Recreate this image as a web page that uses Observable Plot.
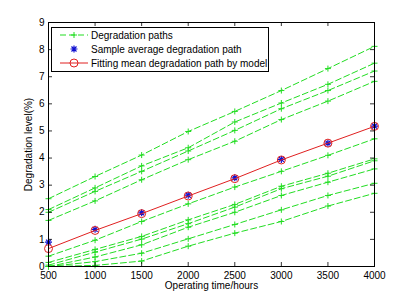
<!DOCTYPE html>
<html>
<head>
<meta charset="utf-8">
<script src="https://cdn.jsdelivr.net/npm/d3@7"></script>
<script src="https://cdn.jsdelivr.net/npm/@observablehq/plot@0.6"></script>
<style>
  html, body { margin: 0; padding: 0; background: #fff; }
  #chart { position: relative; width: 396px; height: 297px; }
</style>
</head>
<body>
<div id="chart"></div>
<script>
// ---- data ----
const times = [500, 1000, 1500, 2000, 2500, 3000, 3500, 4000];
const xTicks = [500, 1000, 1500, 2000, 2500, 3000, 3500, 4000];
const yTicks = [0, 1, 2, 3, 4, 5, 6, 7, 8, 9];

// upper group of degradation paths
const path1 = [2.50, 3.32, 4.11, 4.98, 5.72, 6.49, 7.30, 8.12];
const path2 = [2.10, 2.90, 3.71, 4.38, 5.33, 6.03, 6.72, 7.50];
const path3 = [2.00, 2.77, 3.51, 4.26, 5.02, 5.82, 6.49, 7.21];
const path4 = [1.70, 2.42, 3.20, 3.94, 4.62, 5.42, 6.10, 6.83];
// lower group of degradation paths
const path5 = [0.38, 0.97, 1.66, 2.31, 2.93, 3.51, 4.10, 4.71];
const path6 = [0.15, 0.63, 1.11, 1.72, 2.29, 2.96, 3.44, 3.97];
const path7 = [0.05, 0.53, 1.01, 1.58, 2.19, 2.87, 3.33, 3.90];
const path8 = [0.00, 0.35, 0.80, 1.45, 2.00, 2.62, 3.11, 3.60];
const path9 = [0.00, 0.18, 0.49, 1.02, 1.55, 2.09, 2.62, 3.07];
const path10 = [0.00, 0.04, 0.20, 0.75, 1.23, 1.66, 2.23, 2.70];

const sampleAvg = [0.90, 1.37, 1.98, 2.63, 3.27, 3.95, 4.55, 5.18];
const fittedMean = [0.66, 1.33, 1.95, 2.60, 3.24, 3.93, 4.55, 5.17];

const legendLabels = ["Degradation paths", "Sample average degradation path", "Fitting mean degradation path by model"];

// ---- build tables ----
const paths = [path1, path2, path3, path4, path5, path6, path7, path8, path9, path10];
const pathRows = paths.flatMap((p, i) => p.map((v, j) => ({time: times[j], value: v, path: i})));
const avgRows = sampleAvg.map((v, j) => ({time: times[j], value: v}));
const fitRows = fittedMean.map((v, j) => ({time: times[j], value: v}));

const GREEN = "#22dd22";
const BLUE = "#1010d0";
const RED = "#e02020";

const plusSym = {
  draw(ctx, size) {
    const r = Math.sqrt(size / Math.PI);
    ctx.moveTo(-r, 0); ctx.lineTo(r, 0);
    ctx.moveTo(0, -r); ctx.lineTo(0, r);
  }
};
const starSym = {
  draw(ctx, size) {
    const r = Math.sqrt(size / Math.PI);
    const d = r * 0.72;
    ctx.moveTo(-r, 0); ctx.lineTo(r, 0);
    ctx.moveTo(0, -r); ctx.lineTo(0, r);
    ctx.moveTo(-d, -d); ctx.lineTo(d, d);
    ctx.moveTo(-d, d); ctx.lineTo(d, -d);
  }
};

const W = 396, H = 297;
const mL = 48, mR = 22, mT = 22, mB = 31;
const innerH = H - mT - mB;
const innerW = W - mL - mR;
const tickLen = 4;

const plot = Plot.plot({
  width: W,
  height: H,
  marginLeft: mL,
  marginRight: mR,
  marginTop: mT,
  marginBottom: mB,
  style: {fontFamily: "'Liberation Sans', Arial, sans-serif", fontSize: "10px", color: "#000", background: "#fff", overflow: "visible"},
  x: {domain: [500, 4000], ticks: xTicks, tickSize: 0, tickPadding: 5, tickFormat: d => String(d),
      label: "Operating time/hours", labelAnchor: "center", labelOffset: 22, labelArrow: "none"},
  y: {domain: [0, 9], ticks: yTicks, tickSize: 0, tickPadding: 4, tickFormat: d => String(d),
      label: "Degradation level(%)", labelAnchor: "center", labelOffset: 24, labelArrow: "none"},
  marks: [
    Plot.line(pathRows, {x: "time", y: "value", z: "path", stroke: GREEN, strokeWidth: 1, strokeDasharray: "6,3"}),
    Plot.dot(pathRows, {x: "time", y: "value", symbol: plusSym, r: 3, fill: "none", stroke: GREEN, strokeWidth: 1}),
    Plot.dot(avgRows, {x: "time", y: "value", symbol: starSym, r: 3.5, fill: "none", stroke: BLUE, strokeWidth: 1.2}),
    Plot.line(fitRows, {x: "time", y: "value", stroke: RED, strokeWidth: 1}),
    Plot.dot(fitRows, {x: "time", y: "value", r: 4, fill: "none", stroke: RED, strokeWidth: 1}),
    // inward tick marks (MATLAB style) on all four sides
    Plot.ruleX(xTicks, {x: d => d, insetTop: innerH - tickLen, stroke: "#000", strokeWidth: 0.8}),
    Plot.ruleX(xTicks, {x: d => d, insetBottom: innerH - tickLen, stroke: "#000", strokeWidth: 0.8}),
    Plot.ruleY(yTicks, {y: d => d, insetRight: innerW - tickLen, stroke: "#000", strokeWidth: 0.8}),
    Plot.ruleY(yTicks, {y: d => d, insetLeft: innerW - tickLen, stroke: "#000", strokeWidth: 0.8}),
    Plot.frame({stroke: "#000", strokeWidth: 1})
  ]
});

document.getElementById("chart").appendChild(plot);

// ---- legend (drawn inside the plot's svg) ----
const svg = d3.select(plot);
const lg = svg.append("g")
  .attr("font-family", "'Liberation Sans', Arial, sans-serif")
  .attr("font-size", "10px")
  .attr("text-anchor", "start");
const bx = 51, by = 27, bw = 217, bh = 44;
lg.append("rect").attr("x", bx + 0.5).attr("y", by + 0.5).attr("width", bw).attr("height", bh)
  .attr("fill", "#fff").attr("stroke", "#000").attr("stroke-width", 1);
const rowY = [35, 49, 63];
const lx1 = 60, lx2 = 88, lxm = 74, tx = 91;
const sym = (s, r) => d3.symbol(s, r * r * Math.PI)();
// row 1: green dashed with plus
lg.append("line").attr("x1", lx1).attr("x2", lx2).attr("y1", rowY[0]).attr("y2", rowY[0])
  .attr("stroke", GREEN).attr("stroke-dasharray", "6,3");
lg.append("path").attr("d", sym(plusSym, 3)).attr("transform", `translate(${lxm},${rowY[0]})`).attr("stroke", GREEN).attr("fill", "none");
// row 2: blue star
lg.append("path").attr("d", sym(starSym, 3.5)).attr("transform", `translate(${lxm},${rowY[1]})`).attr("stroke", BLUE).attr("stroke-width", 1.2).attr("fill", "none");
// row 3: red line with circle
lg.append("line").attr("x1", lx1).attr("x2", lx2).attr("y1", rowY[2]).attr("y2", rowY[2]).attr("stroke", RED);
lg.append("circle").attr("cx", lxm).attr("cy", rowY[2]).attr("r", 4).attr("stroke", RED).attr("fill", "none");
legendLabels.forEach((t, i) => {
  lg.append("text").attr("x", tx).attr("y", rowY[i]).attr("dy", "0.35em").attr("fill", "#000").attr("text-anchor", "start").text(t);
});
</script>
</body>
</html>
